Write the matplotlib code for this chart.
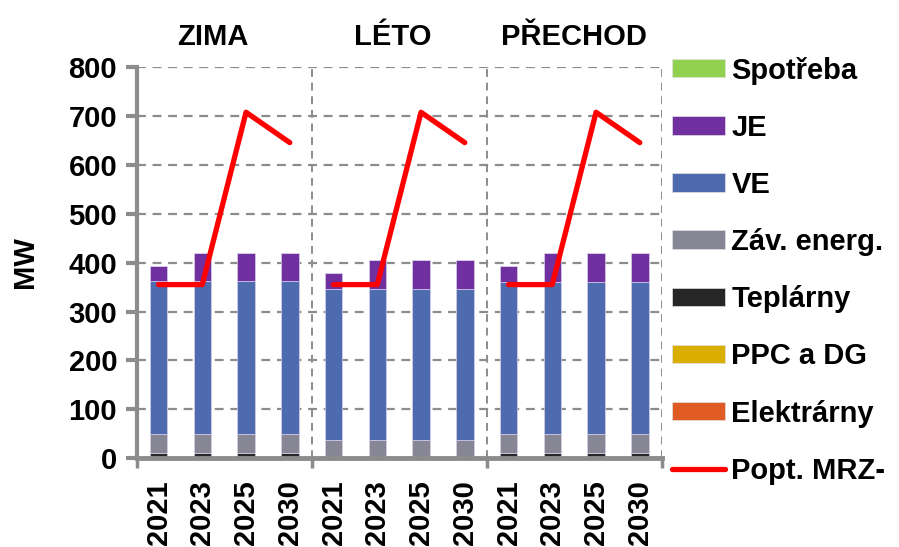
import matplotlib
matplotlib.use("Agg")
import matplotlib.pyplot as plt
from matplotlib.patches import Patch
from matplotlib.lines import Line2D
import numpy as np

plt.rcParams['font.family'] = ['Liberation Sans', 'DejaVu Sans']
plt.rcParams['font.weight'] = 'bold'

seasons = ["ZIMA", "LÉTO", "PŘECHOD"]
years = ["2021", "2023", "2025", "2030"]

# stacked components (MW), 4 years per season
elektrarny = [0, 0, 0, 0,   0, 0, 0, 0,   0, 0, 0, 0]
ppc_dg     = [0, 0, 0, 0,   0, 0, 0, 0,   0, 0, 0, 0]
teplarny   = [12, 12, 12, 12,   0, 0, 0, 0,   12, 12, 12, 12]
zav_energ  = [38, 38, 38, 38,   38, 38, 38, 38,   38, 38, 38, 38]
ve         = [313, 313, 313, 313,   309, 309, 309, 309,   311, 311, 311, 311]
je         = [30, 56, 56, 56,   32, 58, 58, 58,   32, 58, 58, 58]
spotreba   = [0, 0, 0, 0,   0, 0, 0, 0,   0, 0, 0, 0]
popt_mrz   = [355, 355, 707, 645]

series = [
    ("Elektrárny", elektrarny, "#E05A23"),
    ("PPC a DG", ppc_dg, "#D9AE00"),
    ("Teplárny", teplarny, "#262626"),
    ("Záv. energ.", zav_energ, "#868694"),
    ("VE", ve, "#4F6BB0"),
    ("JE", je, "#7030A0"),
    ("Spotřeba", spotreba, "#92D050"),
]

FS = 21

fig = plt.figure(figsize=(8.99, 5.47), dpi=100)
ax = fig.add_axes([0.152, 0.162, 0.584, 0.716])

x = np.arange(len(seasons) * len(years))
bottom = np.zeros(len(x))
for name, vals, col in series:
    vals = np.array(vals, dtype=float)
    ax.bar(x, vals, 0.4, bottom=bottom, color=col, edgecolor="#d8d0e8",
           linewidth=0.5, zorder=3)
    bottom += vals

for i in range(len(seasons)):
    xs = x[i * 4:(i + 1) * 4]
    ax.plot(xs, popt_mrz, color="#FF0000", lw=3.8, solid_capstyle="round",
            solid_joinstyle="round", zorder=4)

ax.set_xlim(-0.5, 11.5)
ax.set_ylim(0, 800)
ax.set_yticks(range(0, 801, 100))
ax.yaxis.grid(True, color="#8c8c8c", linestyle=(0, (4, 3)), linewidth=1.6, zorder=0)
for b in [3.5, 7.5, 11.5]:
    ax.axvline(b, color="#8c8c8c", linestyle=(0, (4, 3)), linewidth=1.4, zorder=0)

ax.set_xticks([-0.5, 3.5, 7.5, 11.5])
ax.set_xticklabels([])
ax.set_xticks(x, minor=True)
ax.set_xticklabels(years * 3, minor=True, rotation=90, fontsize=FS,
                   fontweight="bold", va="top")
ax.tick_params(axis="x", which="minor", length=0, pad=16)
ax.tick_params(axis="x", which="major", length=7, width=2.5, color="#8c8c8c")
ax.tick_params(axis="y", length=8, width=3, color="#8c8c8c", labelsize=FS, pad=6)
for lab in ax.get_yticklabels():
    lab.set_fontweight("bold")

ax.spines["top"].set_visible(False)
ax.spines["right"].set_visible(False)
ax.spines["left"].set_color("#8c8c8c")
ax.spines["left"].set_linewidth(3)
ax.spines["bottom"].set_color("#8c8c8c")
ax.spines["bottom"].set_linewidth(3.5)
ax.spines["left"].set_zorder(5)
ax.spines["bottom"].set_zorder(5)

ax.set_ylabel("MW", fontsize=FS, fontweight="bold", labelpad=21)

title_x = [1.23, 5.35, 9.5]
for tx, s in zip(title_x, seasons):
    ax.text(tx, 1.04, s, transform=ax.get_xaxis_transform(), ha="center",
            va="bottom", fontsize=FS, fontweight="bold")

handles = [Patch(facecolor=col, edgecolor="#e0e0e0", linewidth=0.5, label=name)
           for name, _, col in reversed(series)]
handles.append(Line2D([0], [0], color="#FF0000", lw=3.8, label="Popt. MRZ-",
                      solid_capstyle="round"))
fig.legend(handles=handles, loc="upper left", bbox_to_anchor=(0.735, 0.918),
           frameon=False, handlelength=1.8, handleheight=0.6,
           handletextpad=0.22, labelspacing=1.0, borderaxespad=0,
           prop={"weight": "bold", "size": FS})

fig.savefig("out.png", dpi=100)
